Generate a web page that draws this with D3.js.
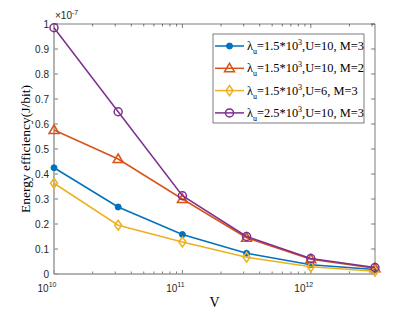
<!DOCTYPE html>
<html>
<head>
<meta charset="utf-8">
<script src="https://cdn.jsdelivr.net/npm/d3@7"></script>
<style>
  body { margin: 0; background: #fff; }
  svg { display: block; }
</style>
</head>
<body>
<div id="chart"></div>
<script>
// x values (V) and energy efficiency values in units of 1e-7 J/bit
const vValues = [1e10, 3.16e10, 1e11, 3.16e11, 1e12, 3.16e12];
const blueVals = [0.425, 0.268, 0.158, 0.083, 0.037, 0.018];
const orangeVals = [0.576, 0.46, 0.30, 0.145, 0.059, 0.023];
const yellowVals = [0.363, 0.195, 0.128, 0.067, 0.029, 0.011];
const purpleVals = [0.985, 0.649, 0.313, 0.150, 0.062, 0.026];
const legendLabels = [
  {lam: "1.5*10", rest: ",U=10, M=3"},
  {lam: "1.5*10", rest: ",U=10, M=2"},
  {lam: "1.5*10", rest: ",U=6, M=3"},
  {lam: "2.5*10", rest: ",U=10, M=3"}
];
const yTicks = [0, 0.1, 0.2, 0.3, 0.4, 0.5, 0.6, 0.7, 0.8, 0.9, 1];
const xMajor = [1e10, 1e11, 1e12];

const series = [
  {values: blueVals, color: "#0072BD", marker: "dot"},
  {values: orangeVals, color: "#D95319", marker: "triangle"},
  {values: yellowVals, color: "#EDB120", marker: "diamond"},
  {values: purpleVals, color: "#7E2F8E", marker: "circle"}
];

const W = 415, H = 312;
const margin = {top: 24, right: 40, bottom: 38, left: 54};
const iw = W - margin.left - margin.right;
const ih = H - margin.top - margin.bottom;

const svg = d3.select("#chart").append("svg")
  .attr("width", W).attr("height", H);

const x = d3.scaleLog().domain([1e10, Math.pow(10, 12.5)]).range([0, iw]);
const y = d3.scaleLinear().domain([0, 1]).range([ih, 0]);

const g = svg.append("g").attr("transform", `translate(${margin.left},${margin.top})`);

// minor ticks for the log axis
let minor = [];
for (let e = 10; e <= 12; e++) {
  for (let k = 2; k <= 9; k++) {
    const v = k * Math.pow(10, e);
    if (v <= x.domain()[1]) minor.push(v);
  }
}

const axisColor = "#262626";
const tickLen = 4;

// y ticks (left and right, inward)
yTicks.forEach(t => {
  g.append("line").attr("x1", 0).attr("x2", tickLen)
    .attr("y1", y(t)).attr("y2", y(t)).attr("stroke", axisColor).attr("stroke-width", 0.6);
  g.append("line").attr("x1", iw).attr("x2", iw - tickLen)
    .attr("y1", y(t)).attr("y2", y(t)).attr("stroke", axisColor).attr("stroke-width", 0.6);
  g.append("text")
    .attr("x", -5).attr("y", y(t)).attr("dy", "0.35em")
    .attr("text-anchor", "end")
    .attr("font-family", "Liberation Sans, Arial, sans-serif")
    .attr("font-size", 10).attr("fill", axisColor)
    .text(t === 0 ? "0" : t === 1 ? "1" : d3.format(".1f")(t));
});

// x ticks, top and bottom
xMajor.forEach(t => {
  [[ih, ih - tickLen], [0, tickLen]].forEach(([a, b]) => {
    g.append("line").attr("x1", x(t)).attr("x2", x(t))
      .attr("y1", a).attr("y2", b).attr("stroke", axisColor).attr("stroke-width", 0.6);
  });
  const e = Math.round(Math.log10(t));
  const lbl = g.append("text")
    .attr("x", x(t) - 7).attr("y", ih + 18)
    .attr("text-anchor", "middle")
    .attr("font-family", "Liberation Sans, Arial, sans-serif")
    .attr("font-size", 10).attr("fill", axisColor);
  lbl.append("tspan").text("10");
  lbl.append("tspan").attr("dy", -5).attr("font-size", 7).text(e);
});
minor.forEach(t => {
  [[ih, ih - 2.5], [0, 2.5]].forEach(([a, b]) => {
    g.append("line").attr("x1", x(t)).attr("x2", x(t))
      .attr("y1", a).attr("y2", b).attr("stroke", axisColor).attr("stroke-width", 0.6);
  });
});

// box
g.append("line").attr("x1", 0).attr("x2", iw).attr("y1", 0).attr("y2", 0)
  .attr("stroke", axisColor).attr("stroke-width", 0.6);
g.append("line").attr("x1", iw).attr("x2", iw).attr("y1", 0).attr("y2", ih)
  .attr("stroke", axisColor).attr("stroke-width", 0.6);
g.append("line").attr("x1", 0).attr("x2", iw).attr("y1", ih).attr("y2", ih)
  .attr("stroke", "#9a9a9a").attr("stroke-width", 1.5);
g.append("line").attr("x1", 0).attr("x2", 0).attr("y1", 0).attr("y2", ih)
  .attr("stroke", "#9a9a9a").attr("stroke-width", 1.5);

// exponent label
const expo = g.append("text").attr("x", 1).attr("y", -5)
  .attr("font-family", "Liberation Sans, Arial, sans-serif")
  .attr("font-size", 10).attr("fill", axisColor);
expo.append("tspan").text("\u00d710");
expo.append("tspan").attr("dy", -4).attr("font-size", 7).text("-7");

// markers
function drawMarker(sel, type, color, cx, cy) {
  if (type === "dot") {
    sel.append("circle").attr("cx", cx).attr("cy", cy).attr("r", 3)
      .attr("fill", color).attr("stroke", color);
  } else if (type === "circle") {
    sel.append("circle").attr("cx", cx).attr("cy", cy).attr("r", 4)
      .attr("fill", "none").attr("stroke", color).attr("stroke-width", 1.5);
  } else if (type === "triangle") {
    sel.append("path")
      .attr("d", `M${cx},${cy - 5}L${cx + 5},${cy + 3.5}L${cx - 5},${cy + 3.5}Z`)
      .attr("fill", "none").attr("stroke", color).attr("stroke-width", 1.5);
  } else if (type === "diamond") {
    sel.append("path")
      .attr("d", `M${cx},${cy - 5}L${cx + 3.5},${cy}L${cx},${cy + 5}L${cx - 3.5},${cy}Z`)
      .attr("fill", "none").attr("stroke", color).attr("stroke-width", 1.5);
  }
}

const line = d3.line().x(d => x(d[0])).y(d => y(d[1]));

series.forEach(s => {
  const pts = vValues.map((v, i) => [v, s.values[i]]);
  g.append("path").datum(pts)
    .attr("d", line).attr("fill", "none")
    .attr("stroke", s.color).attr("stroke-width", 1.5);
  const mg = g.append("g");
  pts.forEach(p => drawMarker(mg, s.marker, s.color, x(p[0]), y(p[1])));
});

// legend
const lg = svg.append("g").attr("transform", "translate(213,34)");
lg.append("rect").attr("x", 0).attr("y", 0).attr("width", 151).attr("height", 89)
  .attr("fill", "#fff").attr("stroke", axisColor).attr("stroke-width", 0.6);
series.forEach((s, i) => {
  const cy = 12 + i * 22.3;
  lg.append("line").attr("x1", 2).attr("x2", 31).attr("y1", cy).attr("y2", cy)
    .attr("stroke", s.color).attr("stroke-width", 1.5);
  drawMarker(lg, s.marker, s.color, 16.5, cy);
  const t = lg.append("text").attr("x", 34).attr("y", cy + 4)
    .attr("font-family", "Liberation Serif, Times New Roman, serif")
    .attr("font-size", 12.4).attr("fill", "#000");
  t.append("tspan").text("\u03bb");
  t.append("tspan").attr("dy", 4).attr("font-size", 8).text("u");
  t.append("tspan").attr("dy", -4).text("=" + legendLabels[i].lam);
  t.append("tspan").attr("dy", -5).attr("font-size", 8).text("3");
  t.append("tspan").attr("dy", 5).text(legendLabels[i].rest);
});

// axis titles
svg.append("text")
  .attr("x", margin.left + x(Math.pow(10, 11.25))).attr("y", 307)
  .attr("text-anchor", "middle")
  .attr("font-family", "Liberation Serif, Times New Roman, serif")
  .attr("font-size", 14).attr("fill", "#000").text("V");
svg.append("text")
  .attr("transform", `translate(30,${margin.top + ih / 2}) rotate(-90)`)
  .attr("text-anchor", "middle")
  .attr("font-family", "Liberation Serif, Times New Roman, serif")
  .attr("font-size", 13.5).attr("fill", "#000").text("Energy efficiency(J/bit)");
</script>
</body>
</html>
